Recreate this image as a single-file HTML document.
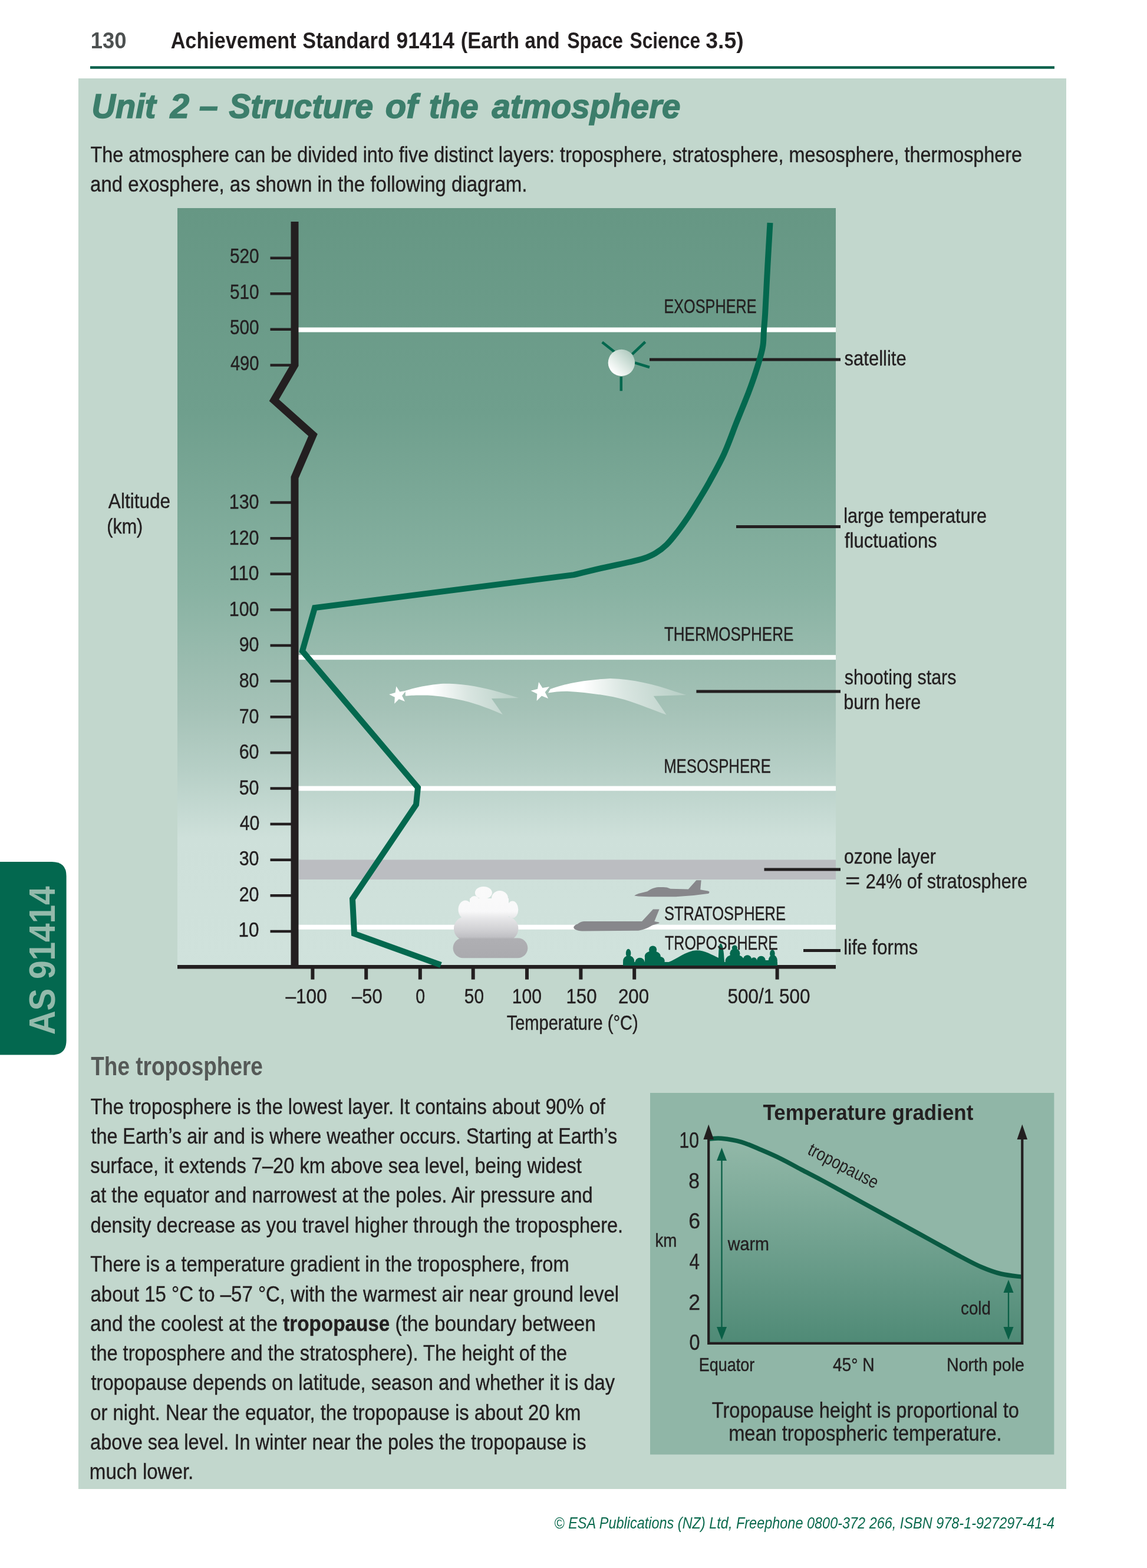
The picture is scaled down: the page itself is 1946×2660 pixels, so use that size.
<!DOCTYPE html>
<html lang="en"><head><meta charset="utf-8"><title>Unit 2 – Structure of the atmosphere</title>
<style>html,body{margin:0;padding:0;background:#fff;}body{width:1946px;height:2660px;overflow:hidden;}svg{display:block;font-family:'Liberation Sans', Arial, sans-serif;}</style></head><body>
<svg width="1946" height="2660" viewBox="0 0 1946 2660" fill="#231f20">
<defs>
<linearGradient id="sky" gradientUnits="userSpaceOnUse" x1="0" y1="353" x2="0" y2="1640"><stop offset="0" stop-color="#669784"/><stop offset="0.27" stop-color="#6f9f8d"/><stop offset="0.50" stop-color="#88b2a2"/><stop offset="0.66" stop-color="#a5c2b7"/><stop offset="0.74" stop-color="#b6cfc6"/><stop offset="0.83" stop-color="#cee0da"/><stop offset="1" stop-color="#d0e2dc"/></linearGradient>
<linearGradient id="inset" gradientUnits="userSpaceOnUse" x1="0" y1="1930" x2="0" y2="2278"><stop offset="0" stop-color="#93b9a9"/><stop offset="1" stop-color="#4f8a76"/></linearGradient>
<linearGradient id="sat" x1="0.15" y1="0.85" x2="0.85" y2="0.15"><stop offset="0" stop-color="#ffffff"/><stop offset="0.3" stop-color="#e9f1ed"/><stop offset="1" stop-color="#b2ccc1"/></linearGradient>
<linearGradient id="tail1" gradientUnits="userSpaceOnUse" x1="687" y1="0" x2="880" y2="0"><stop offset="0" stop-color="#ffffff" stop-opacity="1"/><stop offset="0.24" stop-color="#ffffff" stop-opacity="1"/><stop offset="0.55" stop-color="#ffffff" stop-opacity="0.6"/><stop offset="1" stop-color="#ffffff" stop-opacity="0.22"/></linearGradient>
<linearGradient id="tail2" gradientUnits="userSpaceOnUse" x1="930" y1="0" x2="1164" y2="0"><stop offset="0" stop-color="#ffffff" stop-opacity="1"/><stop offset="0.25" stop-color="#ffffff" stop-opacity="1"/><stop offset="0.55" stop-color="#ffffff" stop-opacity="0.6"/><stop offset="1" stop-color="#ffffff" stop-opacity="0.22"/></linearGradient>
<linearGradient id="cloud" gradientUnits="userSpaceOnUse" x1="0" y1="1504" x2="0" y2="1626"><stop offset="0" stop-color="#fafafa"/><stop offset="0.344" stop-color="#f8f8f9"/><stop offset="0.443" stop-color="#e6e6e8"/><stop offset="0.598" stop-color="#d1d1d4"/><stop offset="0.70" stop-color="#c0c0c4"/><stop offset="0.73" stop-color="#afafb3"/><stop offset="1" stop-color="#aaaaae"/></linearGradient>
<clipPath id="ground"><rect x="1040" y="1590" width="300" height="48"/></clipPath>
</defs>
<text id="t1" x="153.83" y="82.0" font-size="38" fill="#4d5151" font-weight="bold" textLength="60.81" lengthAdjust="spacingAndGlyphs">130</text>
<text id="t2" x="289.65" y="82.0" font-size="39" font-weight="bold" textLength="213.01" lengthAdjust="spacingAndGlyphs">Achievement</text>
<text id="t3" x="513.32" y="82.0" font-size="39" font-weight="bold" textLength="148.57" lengthAdjust="spacingAndGlyphs">Standard</text>
<text id="t4" x="672.52" y="82.0" font-size="39" font-weight="bold" textLength="98.37" lengthAdjust="spacingAndGlyphs">91414</text>
<text id="t5" x="781.80" y="82.0" font-size="39" font-weight="bold" textLength="99.21" lengthAdjust="spacingAndGlyphs">(Earth</text>
<text id="t6" x="890.41" y="82.0" font-size="39" font-weight="bold" textLength="59.24" lengthAdjust="spacingAndGlyphs">and</text>
<text id="t7" x="962.15" y="82.0" font-size="39" font-weight="bold" textLength="94.80" lengthAdjust="spacingAndGlyphs">Space</text>
<text id="t8" x="1068.60" y="82.0" font-size="39" font-weight="bold" textLength="119.59" lengthAdjust="spacingAndGlyphs">Science</text>
<text id="t9" x="1197.24" y="82.0" font-size="39" font-weight="bold" textLength="64.54" lengthAdjust="spacingAndGlyphs">3.5)</text>
<rect x="153" y="112.3" width="1636" height="4.4" fill="#03604a"/>
<rect x="133" y="133" width="1676" height="2393" fill="#c2d7cd"/>
<text id="t10" x="155.55" y="199.6" font-size="58" fill="#3c7e6b" font-weight="bold" font-style="italic" textLength="108.92" lengthAdjust="spacingAndGlyphs" stroke="#3c7e6b" stroke-width="1.6">Unit</text>
<text id="t11" x="288.81" y="199.6" font-size="58" fill="#3c7e6b" font-weight="bold" font-style="italic" textLength="32.36" lengthAdjust="spacingAndGlyphs" stroke="#3c7e6b" stroke-width="1.6">2</text>
<text id="t12" x="338.07" y="199.6" font-size="58" fill="#3c7e6b" font-weight="bold" font-style="italic" textLength="31.85" lengthAdjust="spacingAndGlyphs" stroke="#3c7e6b" stroke-width="1.6">–</text>
<text id="t13" x="388.42" y="199.6" font-size="58" fill="#3c7e6b" font-weight="bold" font-style="italic" textLength="244.75" lengthAdjust="spacingAndGlyphs" stroke="#3c7e6b" stroke-width="1.6">Structure</text>
<text id="t14" x="653.87" y="199.6" font-size="58" fill="#3c7e6b" font-weight="bold" font-style="italic" textLength="54.83" lengthAdjust="spacingAndGlyphs" stroke="#3c7e6b" stroke-width="1.6">of</text>
<text id="t15" x="727.66" y="199.6" font-size="58" fill="#3c7e6b" font-weight="bold" font-style="italic" textLength="84.09" lengthAdjust="spacingAndGlyphs" stroke="#3c7e6b" stroke-width="1.6">the</text>
<text id="t16" x="834.43" y="199.6" font-size="58" fill="#3c7e6b" font-weight="bold" font-style="italic" textLength="320.10" lengthAdjust="spacingAndGlyphs" stroke="#3c7e6b" stroke-width="1.6">atmosphere</text>
<text id="t17" x="153.49" y="275.1" font-size="36" textLength="1580.60" lengthAdjust="spacingAndGlyphs" stroke="#231f20" stroke-width="0.4">The atmosphere can be divided into five distinct layers: troposphere, stratosphere, mesosphere, thermosphere</text>
<text id="t18" x="153.09" y="325.2" font-size="36" textLength="741.40" lengthAdjust="spacingAndGlyphs" stroke="#231f20" stroke-width="0.4">and exosphere, as shown in the following diagram.</text>
<rect x="301" y="353" width="1117" height="1287" fill="url(#sky)"/>
<rect x="507" y="1458.5" width="911" height="33.5" fill="#bbbdc1"/>
<rect x="506" y="555.5" width="912" height="8" fill="#ffffff"/>
<rect x="506" y="1111.2" width="912" height="8" fill="#ffffff"/>
<rect x="506" y="1333.5" width="912" height="8" fill="#ffffff"/>
<rect x="506" y="1568.8" width="912" height="8" fill="#ffffff"/>
<polyline points="500,376 500,619 465,679 531,738 500,810 500,1643" fill="none" stroke="#231f20" stroke-width="13" stroke-linejoin="miter" stroke-miterlimit="6"/>
<line x1="458.5" y1="437.8" x2="496" y2="437.8" stroke="#231f20" stroke-width="4.5"/>
<text id="t19" x="389.90" y="446.4" font-size="35.5" textLength="49.59" lengthAdjust="spacingAndGlyphs" stroke="#231f20" stroke-width="0.4">520</text>
<line x1="458.5" y1="498.3" x2="496" y2="498.3" stroke="#231f20" stroke-width="4.5"/>
<text id="t20" x="389.90" y="506.9" font-size="35.5" textLength="49.59" lengthAdjust="spacingAndGlyphs" stroke="#231f20" stroke-width="0.4">510</text>
<line x1="458.5" y1="558.8" x2="496" y2="558.8" stroke="#231f20" stroke-width="4.5"/>
<text id="t21" x="389.90" y="567.4" font-size="35.5" textLength="49.59" lengthAdjust="spacingAndGlyphs" stroke="#231f20" stroke-width="0.4">500</text>
<line x1="458.5" y1="619.4" x2="496" y2="619.4" stroke="#231f20" stroke-width="4.5"/>
<text id="t22" x="390.90" y="628.0" font-size="35.5" textLength="48.58" lengthAdjust="spacingAndGlyphs" stroke="#231f20" stroke-width="0.4">490</text>
<line x1="458.5" y1="852.6" x2="496" y2="852.6" stroke="#231f20" stroke-width="4.5"/>
<text id="t23" x="388.86" y="862.9" font-size="35.5" textLength="50.65" lengthAdjust="spacingAndGlyphs" stroke="#231f20" stroke-width="0.4">130</text>
<line x1="458.5" y1="913.2" x2="496" y2="913.2" stroke="#231f20" stroke-width="4.5"/>
<text id="t24" x="388.86" y="923.5" font-size="35.5" textLength="50.65" lengthAdjust="spacingAndGlyphs" stroke="#231f20" stroke-width="0.4">120</text>
<line x1="458.5" y1="973.8" x2="496" y2="973.8" stroke="#231f20" stroke-width="4.5"/>
<text id="t25" x="388.86" y="984.1" font-size="35.5" textLength="50.65" lengthAdjust="spacingAndGlyphs" stroke="#231f20" stroke-width="0.4">110</text>
<line x1="458.5" y1="1034.4" x2="496" y2="1034.4" stroke="#231f20" stroke-width="4.5"/>
<text id="t26" x="388.86" y="1044.7" font-size="35.5" textLength="50.65" lengthAdjust="spacingAndGlyphs" stroke="#231f20" stroke-width="0.4">100</text>
<line x1="458.5" y1="1095.0" x2="496" y2="1095.0" stroke="#231f20" stroke-width="4.5"/>
<text id="t27" x="405.63" y="1105.3" font-size="35.5" textLength="33.77" lengthAdjust="spacingAndGlyphs" stroke="#231f20" stroke-width="0.4">90</text>
<line x1="458.5" y1="1155.6" x2="496" y2="1155.6" stroke="#231f20" stroke-width="4.5"/>
<text id="t28" x="405.63" y="1165.9" font-size="35.5" textLength="33.77" lengthAdjust="spacingAndGlyphs" stroke="#231f20" stroke-width="0.4">80</text>
<line x1="458.5" y1="1216.2" x2="496" y2="1216.2" stroke="#231f20" stroke-width="4.5"/>
<text id="t29" x="405.63" y="1226.5" font-size="35.5" textLength="33.77" lengthAdjust="spacingAndGlyphs" stroke="#231f20" stroke-width="0.4">70</text>
<line x1="458.5" y1="1276.9" x2="496" y2="1276.9" stroke="#231f20" stroke-width="4.5"/>
<text id="t30" x="405.63" y="1287.2" font-size="35.5" textLength="33.77" lengthAdjust="spacingAndGlyphs" stroke="#231f20" stroke-width="0.4">60</text>
<line x1="458.5" y1="1337.5" x2="496" y2="1337.5" stroke="#231f20" stroke-width="4.5"/>
<text id="t31" x="405.63" y="1347.8" font-size="35.5" textLength="33.77" lengthAdjust="spacingAndGlyphs" stroke="#231f20" stroke-width="0.4">50</text>
<line x1="458.5" y1="1398.1" x2="496" y2="1398.1" stroke="#231f20" stroke-width="4.5"/>
<text id="t32" x="406.66" y="1408.1" font-size="35.5" textLength="33.71" lengthAdjust="spacingAndGlyphs" stroke="#231f20" stroke-width="0.4">40</text>
<line x1="458.5" y1="1458.7" x2="496" y2="1458.7" stroke="#231f20" stroke-width="4.5"/>
<text id="t33" x="405.63" y="1468.3" font-size="35.5" textLength="33.77" lengthAdjust="spacingAndGlyphs" stroke="#231f20" stroke-width="0.4">30</text>
<line x1="458.5" y1="1519.3" x2="496" y2="1519.3" stroke="#231f20" stroke-width="4.5"/>
<text id="t34" x="405.63" y="1528.5" font-size="35.5" textLength="33.77" lengthAdjust="spacingAndGlyphs" stroke="#231f20" stroke-width="0.4">20</text>
<line x1="458.5" y1="1579.9" x2="496" y2="1579.9" stroke="#231f20" stroke-width="4.5"/>
<text id="t35" x="404.51" y="1588.7" font-size="35.5" textLength="34.94" lengthAdjust="spacingAndGlyphs" stroke="#231f20" stroke-width="0.4">10</text>
<text id="t36" x="183.83" y="862.0" font-size="35.5" textLength="105.33" lengthAdjust="spacingAndGlyphs" stroke="#231f20" stroke-width="0.4">Altitude</text>
<text id="t37" x="181.24" y="904.7" font-size="35.5" textLength="61.03" lengthAdjust="spacingAndGlyphs" stroke="#231f20" stroke-width="0.4">(km)</text>
<rect x="301" y="1637" width="1117" height="6.5" fill="#231f20"/>
<rect x="527.4" y="1643" width="6" height="18.6" fill="#231f20"/>
<rect x="618.2" y="1643" width="6" height="18.6" fill="#231f20"/>
<rect x="709.8" y="1643" width="6" height="18.6" fill="#231f20"/>
<rect x="799.7" y="1643" width="6" height="18.6" fill="#231f20"/>
<rect x="891.0" y="1643" width="6" height="18.6" fill="#231f20"/>
<rect x="982.4" y="1643" width="6" height="18.6" fill="#231f20"/>
<rect x="1073.2" y="1643" width="6" height="18.6" fill="#231f20"/>
<rect x="1315.6" y="1643" width="6" height="18.6" fill="#231f20"/>
<text id="t38" x="484.48" y="1702.2" font-size="35.5" textLength="70.23" lengthAdjust="spacingAndGlyphs" stroke="#231f20" stroke-width="0.4">–100</text>
<text id="t39" x="597.06" y="1702.2" font-size="35.5" textLength="51.55" lengthAdjust="spacingAndGlyphs" stroke="#231f20" stroke-width="0.4">–50</text>
<text id="t40" x="705.22" y="1702.2" font-size="35.5" textLength="15.87" lengthAdjust="spacingAndGlyphs" stroke="#231f20" stroke-width="0.4">0</text>
<text id="t41" x="787.86" y="1702.2" font-size="35.5" textLength="33.08" lengthAdjust="spacingAndGlyphs" stroke="#231f20" stroke-width="0.4">50</text>
<text id="t42" x="868.85" y="1702.2" font-size="35.5" textLength="50.09" lengthAdjust="spacingAndGlyphs" stroke="#231f20" stroke-width="0.4">100</text>
<text id="t43" x="960.53" y="1702.2" font-size="35.5" textLength="51.98" lengthAdjust="spacingAndGlyphs" stroke="#231f20" stroke-width="0.4">150</text>
<text id="t44" x="1048.97" y="1702.2" font-size="35.5" textLength="52.06" lengthAdjust="spacingAndGlyphs" stroke="#231f20" stroke-width="0.4">200</text>
<text id="t45" x="1234.60" y="1702.2" font-size="35.5" textLength="139.80" lengthAdjust="spacingAndGlyphs" stroke="#231f20" stroke-width="0.4">500/1 500</text>
<text id="t46" x="859.64" y="1747.3" font-size="34.5" textLength="223.09" lengthAdjust="spacingAndGlyphs" stroke="#231f20" stroke-width="0.4">Temperature (°C)</text>
<line x1="1102" y1="610" x2="1426" y2="610" stroke="#231f20" stroke-width="5"/>
<line x1="1249" y1="893.6" x2="1426" y2="893.6" stroke="#231f20" stroke-width="5"/>
<line x1="1181.4" y1="1173" x2="1426" y2="1173" stroke="#231f20" stroke-width="5"/>
<line x1="1296.5" y1="1475" x2="1426" y2="1475" stroke="#231f20" stroke-width="5"/>
<line x1="1363" y1="1612.5" x2="1426" y2="1612.5" stroke="#231f20" stroke-width="5"/>
<text id="t47" x="1432.55" y="620.0" font-size="35" textLength="105.10" lengthAdjust="spacingAndGlyphs" stroke="#231f20" stroke-width="0.4">satellite</text>
<text id="t48" x="1431.16" y="887.0" font-size="35" textLength="242.89" lengthAdjust="spacingAndGlyphs" stroke="#231f20" stroke-width="0.4">large temperature</text>
<text id="t49" x="1433.02" y="929.2" font-size="35" textLength="156.65" lengthAdjust="spacingAndGlyphs" stroke="#231f20" stroke-width="0.4">fluctuations</text>
<text id="t50" x="1432.69" y="1161.2" font-size="35" textLength="189.82" lengthAdjust="spacingAndGlyphs" stroke="#231f20" stroke-width="0.4">shooting stars</text>
<text id="t51" x="1431.29" y="1202.8" font-size="35" textLength="131.12" lengthAdjust="spacingAndGlyphs" stroke="#231f20" stroke-width="0.4">burn here</text>
<text id="t52" x="1432.03" y="1465.0" font-size="35" textLength="155.65" lengthAdjust="spacingAndGlyphs" stroke="#231f20" stroke-width="0.4">ozone layer</text>
<text id="t53" x="1431.34" y="1619.3" font-size="35" textLength="126.02" lengthAdjust="spacingAndGlyphs" stroke="#231f20" stroke-width="0.4">life forms</text>
<text id="t54" x="1433.98" y="1505.5" font-size="35" textLength="25.29" lengthAdjust="spacingAndGlyphs" stroke="#231f20" stroke-width="0.4">=</text>
<text id="t55" x="1468.85" y="1507.4" font-size="35" textLength="274.11" lengthAdjust="spacingAndGlyphs" stroke="#231f20" stroke-width="0.4">24% of stratosphere</text>
<g stroke="#03684e" stroke-width="4.5" stroke-linecap="butt"><line x1="1021.7" y1="580.6" x2="1042.3" y2="596.7"/><line x1="1094.7" y1="580" x2="1072.6" y2="600.9"/><line x1="1077" y1="615.4" x2="1102" y2="623"/><line x1="1053.8" y1="639" x2="1053.8" y2="663.2"/></g>
<circle cx="1054.4" cy="615.4" r="22.7" fill="url(#sat)"/>
<path d="M687.8,1171.8 C705,1166 735,1160 756,1159.7 C785,1159.5 820,1166 846.7,1174 L880,1183.9 L833.9,1185 L852.8,1211.9 C835,1204 810,1194 786.2,1188.4 C765,1184 740,1180 725.7,1179.6 C705,1179.2 695,1180 687.8,1180.6 Z" fill="url(#tail1)"/>
<polygon points="672.3,1164.3 678.2,1173.5 688.9,1171.8 682.1,1180.2 687.0,1189.9 676.9,1186.0 669.2,1193.7 669.8,1182.8 660.1,1177.9 670.6,1175.1" fill="#ffffff"/>
<path d="M933.6,1169 C955,1161 985,1154 1035.3,1150.9 C1075,1152 1110,1161 1144.2,1172.7 L1164.2,1179 L1108.8,1180.8 L1130.6,1212.6 C1110,1205 1085,1195 1060,1187 C1035,1180 1000,1175 962.6,1172.7 C950,1172.5 940,1174 930,1175.4 Z" fill="url(#tail2)"/>
<polygon points="914.0,1156.9 920.4,1166.9 932.2,1165.0 924.7,1174.3 930.1,1184.9 919.0,1180.5 910.6,1189.0 911.3,1177.1 900.6,1171.7 912.1,1168.7" fill="#ffffff"/>
<path d="M748,1637 L601,1584 L598,1525 L706,1365 L709,1336 L513,1104.5 L534,1031 L973.6,975.2 C981.8,973.2 1006.9,967.0 1022.6,963.4 C1038.3,959.8 1056.3,956.2 1068.0,953.5 C1079.7,950.8 1085.7,949.5 1093.0,947.0 C1100.3,944.5 1105.7,942.3 1112.0,938.5 C1118.3,934.7 1124.7,930.1 1131.0,924.0 C1137.3,917.9 1143.5,909.7 1149.7,901.7 C1155.9,893.8 1161.8,885.4 1167.9,876.3 C1174.0,867.2 1180.0,857.2 1186.1,847.2 C1192.1,837.2 1197.1,829.2 1204.2,816.3 C1211.3,803.4 1221.2,785.8 1228.5,769.8 C1235.8,753.8 1243.1,732.9 1248.2,720.0 C1253.3,707.1 1255.7,701.5 1259.3,692.5 C1262.9,683.5 1266.5,674.9 1269.9,666.0 C1273.3,657.1 1276.4,648.6 1279.5,639.4 C1282.6,630.2 1286.0,619.6 1288.5,610.7 C1291.0,601.9 1293.2,594.8 1294.4,586.3 C1295.7,577.8 1295.4,568.6 1296.0,559.7 C1296.6,550.8 1297.3,546.4 1298.1,533.1 C1298.9,519.8 1299.9,497.2 1300.8,480.0 C1301.7,462.8 1302.5,447.0 1303.5,430.0 C1304.5,413.0 1306.0,386.7 1306.5,378.0" fill="none" stroke="#03684e" stroke-width="10" stroke-linejoin="miter" stroke-miterlimit="4"/>
<g fill="url(#cloud)"><ellipse cx="820.4" cy="1514.5" rx="14.5" ry="10.5"/><ellipse cx="848" cy="1524" rx="14" ry="13"/><ellipse cx="805" cy="1527" rx="7.5" ry="7"/><ellipse cx="789.5" cy="1543" rx="12" ry="15.5"/><ellipse cx="869.5" cy="1543" rx="9.8" ry="14.5"/><rect x="797" y="1524" width="66" height="34"/><rect x="770" y="1555" width="109.4" height="40.5" rx="20" ry="20"/><rect x="768.6" y="1591.3" width="126.7" height="34" rx="17" ry="17"/></g>
<path fill="#87878b" d="M1076.2,1519.5 C1080,1517 1083,1516 1086,1515.3 L1098.2,1512.2 C1103,1509 1107,1507 1110.3,1506.2 C1114,1504.8 1120,1504.6 1131.5,1505.4 L1137.5,1507.7 L1167.8,1508.5 L1181.4,1493.3 L1189.7,1493.3 L1188.2,1509.2 L1201,1511.5 C1203,1512 1204,1513 1203.3,1514 C1203,1515.5 1202,1516 1201,1516 L1176.9,1519 L1146.6,1521.3 L1101.2,1521.3 L1083,1520.6 Z"/>
<path fill="#87878b" d="M973.3,1572.8 C974,1570 977,1568.5 980.1,1567.5 C983,1565 986,1563.5 990.7,1563 L1089.1,1563 L1108,1542.5 L1118.6,1542.5 L1110.3,1563 L1115,1564 C1118,1564.5 1119,1565 1118.6,1565.5 C1118,1566.5 1117,1566.7 1116.3,1566.7 L1106.5,1569.7 C1103,1572 1100,1573.5 1098.2,1574.3 C1093,1576.5 1088,1578 1083,1578.8 L987.7,1579.6 C983,1579.5 979,1578.5 977.1,1577.3 C974.5,1576 973,1574.5 973.3,1572.8 Z"/>
<g fill="#03684e" clip-path="url(#ground)"><ellipse cx="1066.1" cy="1617" rx="4.3" ry="7.2"/><circle cx="1066.6" cy="1630.5" r="9.6"/><circle cx="1085.6" cy="1633" r="8.3"/><circle cx="1107.6" cy="1611" r="6.6"/><ellipse cx="1107.3" cy="1622.5" rx="13.5" ry="9.5"/><circle cx="1120.3" cy="1630.5" r="7.4"/><rect x="1094" y="1625" width="32" height="15"/><path d="M1125,1640 L1127,1634.5 C1145,1630 1156,1618 1175,1613 C1192,1609.5 1206,1619 1220,1625.5 L1220,1640 Z"/><path d="M1218.4,1640 L1219,1619 C1219.6,1607 1220.2,1601 1222.7,1600.6 C1225.6,1601 1227,1610 1228,1618 L1229.6,1640 Z"/><circle cx="1246.4" cy="1608" r="4.6"/><circle cx="1246.9" cy="1617.5" r="8.6"/><ellipse cx="1246.5" cy="1630.5" rx="16" ry="11.5"/><circle cx="1268" cy="1627.2" r="7"/><circle cx="1279" cy="1629.2" r="5"/><circle cx="1291.4" cy="1629.2" r="7.4"/><rect x="1232" y="1629" width="72" height="11"/><ellipse cx="1310.4" cy="1617.8" rx="4.3" ry="6.8"/><ellipse cx="1311.3" cy="1630" rx="7.6" ry="10.2"/><rect x="1057" y="1632" width="262" height="8"/></g>
<text id="t56" x="1126.43" y="530.7" font-size="33" textLength="157.15" lengthAdjust="spacingAndGlyphs" stroke="#231f20" stroke-width="0.4">EXOSPHERE</text>
<text id="t57" x="1126.97" y="1086.5" font-size="33" textLength="219.25" lengthAdjust="spacingAndGlyphs" stroke="#231f20" stroke-width="0.4">THERMOSPHERE</text>
<text id="t58" x="1126.18" y="1311.4" font-size="33" textLength="181.64" lengthAdjust="spacingAndGlyphs" stroke="#231f20" stroke-width="0.4">MESOSPHERE</text>
<text id="t59" x="1126.93" y="1560.8" font-size="33" textLength="206.14" lengthAdjust="spacingAndGlyphs" stroke="#231f20" stroke-width="0.4">STRATOSPHERE</text>
<text id="t60" x="1128.05" y="1611.0" font-size="33" textLength="191.88" lengthAdjust="spacingAndGlyphs" stroke="#231f20" stroke-width="0.4">TROPOSPHERE</text>
<path d="M0,1462 L88,1462 Q112.6,1462 112.6,1486 L112.6,1765 Q112.6,1789.6 88,1789.6 L0,1789.6 Z" fill="#03684f"/>
<text transform="translate(92.6,1755.5) rotate(-90)" font-size="63" font-weight="bold" fill="#93baab" textLength="252" lengthAdjust="spacingAndGlyphs">AS 91414</text>
<text id="t61" x="154.24" y="1824.4" font-size="44" fill="#555957" font-weight="bold" textLength="291.71" lengthAdjust="spacingAndGlyphs">The troposphere</text>
<text id="t62" x="153.71" y="1889.8" font-size="36" textLength="873.20" lengthAdjust="spacingAndGlyphs" stroke="#231f20" stroke-width="0.4">The troposphere is the lowest layer. It contains about 90% of</text>
<text id="t63" x="154.50" y="1940.0" font-size="36" textLength="892.58" lengthAdjust="spacingAndGlyphs" stroke="#231f20" stroke-width="0.4">the Earth’s air and is where weather occurs. Starting at Earth’s</text>
<text id="t64" x="153.13" y="1990.2" font-size="36" textLength="833.76" lengthAdjust="spacingAndGlyphs" stroke="#231f20" stroke-width="0.4">surface, it extends 7–20 km above sea level, being widest</text>
<text id="t65" x="152.95" y="2040.4" font-size="36" textLength="852.69" lengthAdjust="spacingAndGlyphs" stroke="#231f20" stroke-width="0.4">at the equator and narrowest at the poles. Air pressure and</text>
<text id="t66" x="153.43" y="2090.6" font-size="36" textLength="903.71" lengthAdjust="spacingAndGlyphs" stroke="#231f20" stroke-width="0.4">density decrease as you travel higher through the troposphere.</text>
<text id="t67" x="153.34" y="2157.2" font-size="36" textLength="812.29" lengthAdjust="spacingAndGlyphs" stroke="#231f20" stroke-width="0.4">There is a temperature gradient in the troposphere, from</text>
<text id="t68" x="153.50" y="2207.5" font-size="36" textLength="896.59" lengthAdjust="spacingAndGlyphs" stroke="#231f20" stroke-width="0.4">about 15 °C to –57 °C, with the warmest air near ground level</text>
<text id="t69" x="152.91" y="2257.8" font-size="36" textLength="857.88" lengthAdjust="spacingAndGlyphs" stroke="#231f20" stroke-width="0.4">and the coolest at the <tspan font-weight="bold">tropopause</tspan> (the boundary between</text>
<text id="t70" x="154.37" y="2308.1" font-size="36" textLength="807.84" lengthAdjust="spacingAndGlyphs" stroke="#231f20" stroke-width="0.4">the troposphere and the stratosphere). The height of the</text>
<text id="t71" x="154.53" y="2358.4" font-size="36" textLength="888.54" lengthAdjust="spacingAndGlyphs" stroke="#231f20" stroke-width="0.4">tropopause depends on latitude, season and whether it is day</text>
<text id="t72" x="153.15" y="2408.7" font-size="36" textLength="832.27" lengthAdjust="spacingAndGlyphs" stroke="#231f20" stroke-width="0.4">or night. Near the equator, the tropopause is about 20 km</text>
<text id="t73" x="153.06" y="2459.0" font-size="36" textLength="841.59" lengthAdjust="spacingAndGlyphs" stroke="#231f20" stroke-width="0.4">above sea level. In winter near the poles the tropopause is</text>
<text id="t74" x="151.83" y="2509.3" font-size="36" textLength="176.44" lengthAdjust="spacingAndGlyphs" stroke="#231f20" stroke-width="0.4">much lower.</text>
<rect x="1103" y="1854" width="685.4" height="613.5" fill="#90b6a7"/>
<text id="t75" x="1294.58" y="1900.2" font-size="36" font-weight="bold" textLength="356.74" lengthAdjust="spacingAndGlyphs">Temperature gradient</text>
<path d="M1202.6,1932.0 C1206.1,1931.9 1214.7,1930.3 1223.9,1931.2 C1233.1,1932.1 1246.5,1934.0 1257.8,1937.3 C1269.1,1940.6 1280.4,1946.0 1291.7,1950.8 C1303.0,1955.6 1314.3,1960.5 1325.6,1966.1 C1336.9,1971.6 1348.2,1978.2 1359.5,1984.1 C1370.8,1990.0 1382.1,1995.7 1393.4,2001.7 C1404.7,2007.7 1416.0,2014.1 1427.3,2020.3 C1438.6,2026.5 1449.9,2032.8 1461.2,2039.0 C1472.5,2045.2 1483.8,2051.4 1495.1,2057.6 C1506.4,2063.8 1517.7,2070.1 1529.0,2076.3 C1540.3,2082.5 1551.6,2088.7 1562.9,2094.9 C1574.2,2101.1 1585.5,2107.4 1596.8,2113.6 C1608.1,2119.8 1619.4,2126.3 1630.7,2132.2 C1642.0,2138.1 1653.3,2144.4 1664.6,2149.2 C1675.9,2154.0 1686.8,2158.2 1698.5,2161.0 C1710.2,2163.8 1728.7,2165.4 1734.7,2166.3 L1734.7,2278.4 L1202.6,2278.4 Z" fill="url(#inset)"/>
<path d="M1202.6,1932.0 C1206.1,1931.9 1214.7,1930.3 1223.9,1931.2 C1233.1,1932.1 1246.5,1934.0 1257.8,1937.3 C1269.1,1940.6 1280.4,1946.0 1291.7,1950.8 C1303.0,1955.6 1314.3,1960.5 1325.6,1966.1 C1336.9,1971.6 1348.2,1978.2 1359.5,1984.1 C1370.8,1990.0 1382.1,1995.7 1393.4,2001.7 C1404.7,2007.7 1416.0,2014.1 1427.3,2020.3 C1438.6,2026.5 1449.9,2032.8 1461.2,2039.0 C1472.5,2045.2 1483.8,2051.4 1495.1,2057.6 C1506.4,2063.8 1517.7,2070.1 1529.0,2076.3 C1540.3,2082.5 1551.6,2088.7 1562.9,2094.9 C1574.2,2101.1 1585.5,2107.4 1596.8,2113.6 C1608.1,2119.8 1619.4,2126.3 1630.7,2132.2 C1642.0,2138.1 1653.3,2144.4 1664.6,2149.2 C1675.9,2154.0 1686.8,2158.2 1698.5,2161.0 C1710.2,2163.8 1728.7,2165.4 1734.7,2166.3" fill="none" stroke="#0a5a42" stroke-width="7.5"/>
<polyline points="1202.2,1925 1202.2,2278.8 1734.3,2278.8 1734.3,1925" fill="none" stroke="#231f20" stroke-width="4.2"/>
<polygon points="1202.2,1907.5 1211,1933 1193.4,1933" fill="#231f20"/>
<polygon points="1734.3,1907.5 1743.1,1933 1725.5,1933" fill="#231f20"/>
<text id="t76" x="1152.54" y="1947.3" font-size="36" textLength="33.40" lengthAdjust="spacingAndGlyphs" stroke="#231f20" stroke-width="0.4">10</text>
<text id="t77" x="1168.36" y="2015.8" font-size="36" textLength="18.66" lengthAdjust="spacingAndGlyphs" stroke="#231f20" stroke-width="0.4">8</text>
<text id="t78" x="1168.32" y="2084.3" font-size="36" textLength="19.80" lengthAdjust="spacingAndGlyphs" stroke="#231f20" stroke-width="0.4">6</text>
<text id="t79" x="1169.52" y="2152.8" font-size="36" textLength="17.47" lengthAdjust="spacingAndGlyphs" stroke="#231f20" stroke-width="0.4">4</text>
<text id="t80" x="1168.30" y="2221.5" font-size="36" textLength="19.73" lengthAdjust="spacingAndGlyphs" stroke="#231f20" stroke-width="0.4">2</text>
<text id="t81" x="1169.42" y="2289.6" font-size="36" textLength="17.98" lengthAdjust="spacingAndGlyphs" stroke="#231f20" stroke-width="0.4">0</text>
<text id="t82" x="1111.49" y="2114.9" font-size="32" textLength="36.86" lengthAdjust="spacingAndGlyphs" stroke="#231f20" stroke-width="0.4">km</text>
<line x1="1224.5" y1="1965" x2="1224.5" y2="2255" stroke="#0a5f46" stroke-width="2.3"/>
<polygon points="1224.5,1947 1233,1969 1216,1969" fill="#0a5f46"/>
<polygon points="1224.5,2273 1233,2251 1216,2251" fill="#0a5f46"/>
<line x1="1711" y1="2185" x2="1711" y2="2255" stroke="#0a5f46" stroke-width="2.3"/>
<polygon points="1711,2171 1719.5,2193 1702.5,2193" fill="#0a5f46"/>
<polygon points="1711,2273 1719.5,2251 1702.5,2251" fill="#0a5f46"/>
<text id="t83" x="1234.80" y="2120.6" font-size="32" textLength="70.21" lengthAdjust="spacingAndGlyphs" stroke="#231f20" stroke-width="0.4">warm</text>
<text id="t84" x="1630.07" y="2229.5" font-size="32" textLength="50.69" lengthAdjust="spacingAndGlyphs" stroke="#231f20" stroke-width="0.4">cold</text>
<text transform="translate(1368.5,1957) rotate(27.5)" font-size="31" textLength="130" lengthAdjust="spacingAndGlyphs">tropopause</text>
<text id="t85" x="1185.66" y="2325.5" font-size="31" textLength="94.50" lengthAdjust="spacingAndGlyphs" stroke="#231f20" stroke-width="0.4">Equator</text>
<text id="t86" x="1412.89" y="2325.5" font-size="31" textLength="70.82" lengthAdjust="spacingAndGlyphs" stroke="#231f20" stroke-width="0.4">45° N</text>
<text id="t87" x="1605.98" y="2325.5" font-size="31" textLength="132.04" lengthAdjust="spacingAndGlyphs" stroke="#231f20" stroke-width="0.4">North pole</text>
<text id="t88" x="1207.70" y="2405.2" font-size="36" textLength="521.18" lengthAdjust="spacingAndGlyphs" stroke="#231f20" stroke-width="0.4">Tropopause height is proportional to</text>
<text id="t89" x="1236.23" y="2443.8" font-size="36" textLength="463.32" lengthAdjust="spacingAndGlyphs" stroke="#231f20" stroke-width="0.4">mean tropospheric temperature.</text>
<text id="t90" x="940.36" y="2592.7" font-size="27" fill="#0b6a4e" font-style="italic" textLength="848.76" lengthAdjust="spacingAndGlyphs" stroke-width="0">© ESA Publications (NZ) Ltd, Freephone 0800-372 266, ISBN 978-1-927297-41-4</text>
</svg></body></html>
